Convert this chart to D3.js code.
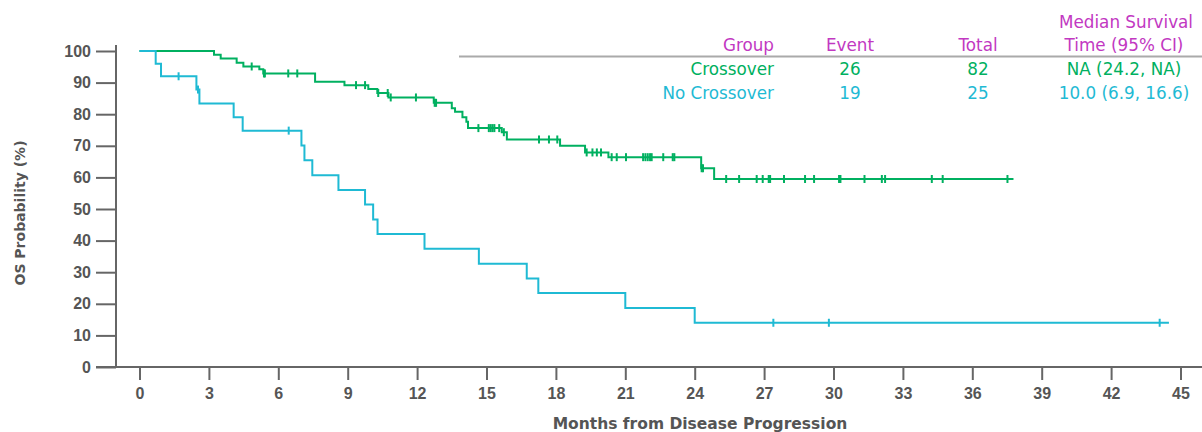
<!DOCTYPE html>
<html>
<head>
<meta charset="utf-8">
<script src="https://cdn.jsdelivr.net/npm/d3@7"></script>
<style>
  body { margin: 0; background: #fff; }
  svg { font-family: "DejaVu Sans", sans-serif; }
  .axis text { fill: #555; font-weight: bold; font-size: 16px; }
  .axis line { stroke: #666; stroke-width: 2; }
  .legendText { font-size: 16.8px; }
</style>
</head>
<body>
<svg class="km_svg" width="1202" height="432"></svg>
<script>
// months / survival (%)
var crossTimes = [0, 3.22, 3.51, 4.2, 4.49, 5.18, 5.35, 7.59, 8.86, 9.89, 10.28, 10.76, 12.72, 13.5, 13.64, 13.96, 14.13, 14.2, 15.66, 15.88, 18.18, 19.26, 20.27, 24.28, 24.84, 37.78];
var crossSurv  = [100, 98.8, 97.6, 96.3, 95.1, 94.2, 92.9, 90.3, 89.2, 88.0, 86.7, 85.3, 83.6, 81.9, 80.8, 79.0, 77.6, 75.6, 74.3, 72.0, 70.0, 67.9, 66.4, 62.9, 59.5, 59.5];
var crossCensor = [4.85, 5.38, 5.42, 6.43, 6.82, 9.36, 9.75, 10.32, 10.73, 10.86, 11.95, 12.76, 12.82, 14.65, 15.1, 15.18, 15.26, 15.34, 15.55, 15.75,
  17.27, 17.7, 18.06, 19.33, 19.58, 19.77, 19.95, 20.41, 20.63, 21.03, 21.77, 21.87, 21.97, 22.07, 22.14, 22.64, 23.05, 23.12, 24.3, 24.36,
  25.36, 25.92, 26.68, 26.94, 27.2, 27.26, 27.86, 28.77, 29.16, 30.24, 30.3, 31.34, 32.09, 32.23, 34.25, 34.72, 37.52];

var noTimes = [0, 0.7, 0.93, 2.46, 2.59, 4.07, 4.46, 7.0, 7.13, 7.47, 8.6, 9.75, 10.1, 10.29, 12.32, 14.67, 16.74, 17.24, 21.0, 24.0, 44.5];
var noSurv  = [100, 96, 92, 87.8, 83.4, 79.0, 74.8, 70.1, 65.4, 60.7, 56.0, 51.4, 46.7, 42.1, 37.4, 32.7, 28.0, 23.4, 18.7, 14.0, 14.0];
var noCensor = [1.69, 2.53, 6.45, 27.4, 29.8, 44.1];

var xTicks = d3.range(0, 46, 3);
var yTicks = d3.range(0, 101, 10);

var groups = ["Crossover", "No Crossover"];
var events = [26, 19];
var totals = [82, 25];
var medians = ["NA (24.2, NA)", "10.0 (6.9, 16.6)"];

var green = "#00b060", cyan = "#1fbad4", magenta = "#c238c2";

var svg = d3.select(".km_svg");

var x = d3.scaleLinear().domain([0, 45]).range([139.5, 1180.5]);
var y = d3.scaleLinear().domain([0, 100]).range([367, 51]);

// axes
svg.append("g")
  .attr("class", "axis")
  .attr("transform", "translate(116,0)")
  .call(d3.axisLeft(y).tickValues(yTicks).tickSize(20).tickPadding(5))
  .call(function(g) { g.select(".domain").remove(); });

svg.append("g")
  .attr("class", "axis")
  .attr("transform", "translate(0,367)")
  .call(d3.axisBottom(x).tickValues(xTicks).tickSize(13).tickPadding(8))
  .call(function(g) { g.select(".domain").remove(); });

svg.append("line")
  .attr("x1", 116).attr("x2", 116).attr("y1", 45).attr("y2", 367)
  .attr("stroke", "#666").attr("stroke-width", 2);
svg.append("line")
  .attr("x1", 96).attr("x2", 1202).attr("y1", 367).attr("y2", 367)
  .attr("stroke", "#666").attr("stroke-width", 2);

svg.append("text")
  .attr("x", 700).attr("y", 429)
  .attr("text-anchor", "middle")
  .style("font-size", "15.5px").style("font-weight", "bold").style("fill", "#555")
  .text("Months from Disease Progression");

svg.append("text")
  .attr("transform", "translate(25,213) rotate(-90)")
  .attr("text-anchor", "middle")
  .style("font-size", "14px").style("font-weight", "bold").style("fill", "#555")
  .text("OS Probability (%)");

// curves
var line = d3.line()
  .x(function(d) { return x(d[0]); })
  .y(function(d) { return y(d[1]); })
  .curve(d3.curveStepAfter);

function drawCurve(times, surv, censor, colour) {
  var pts = times.map(function(t, i) { return [t, surv[i]]; });
  svg.append("path")
    .datum(pts)
    .attr("fill", "none")
    .attr("stroke", colour)
    .attr("stroke-width", 2)
    .attr("d", line);

  svg.append("g").selectAll("line")
    .data(censor).enter().append("line")
    .attr("x1", function(d) { return x(d); })
    .attr("x2", function(d) { return x(d); })
    .attr("y1", function(d) { return y(surv[d3.bisectRight(times, d) - 1]) - 4; })
    .attr("y2", function(d) { return y(surv[d3.bisectRight(times, d) - 1]) + 4; })
    .attr("stroke", colour)
    .attr("stroke-width", 2);
}

drawCurve(crossTimes, crossSurv, crossCensor, green);
drawCurve(noTimes, noSurv, noCensor, cyan);

// legend table
var legend = svg.append("g").attr("class", "legend");

legend.append("line")
  .attr("x1", 459).attr("x2", 1202).attr("y1", 56.5).attr("y2", 56.5)
  .attr("stroke", "#aaa").attr("stroke-width", 2);

var cols = [
  {x: 774, anchor: "end", head: "Group", vals: groups},
  {x: 850, anchor: "middle", head: "Event", vals: events},
  {x: 978, anchor: "middle", head: "Total", vals: totals},
  {x: 1124, anchor: "middle", head: "Time (95% CI)", vals: medians}
];
var rowY = [75, 99];
var rowColour = [green, cyan];

cols.forEach(function(c) {
  legend.append("text")
    .attr("class", "legendText")
    .attr("x", c.x).attr("y", 51)
    .attr("text-anchor", c.anchor)
    .style("fill", magenta)
    .text(c.head);
  c.vals.forEach(function(v, i) {
    legend.append("text")
      .attr("class", "legendText")
      .attr("x", c.x).attr("y", rowY[i])
      .attr("text-anchor", c.anchor)
      .style("fill", rowColour[i])
      .text(v);
  });
});

legend.append("text")
  .attr("class", "legendText")
  .attr("x", 1126).attr("y", 28)
  .attr("text-anchor", "middle")
  .style("fill", magenta)
  .text("Median Survival");
</script>
</body>
</html>
